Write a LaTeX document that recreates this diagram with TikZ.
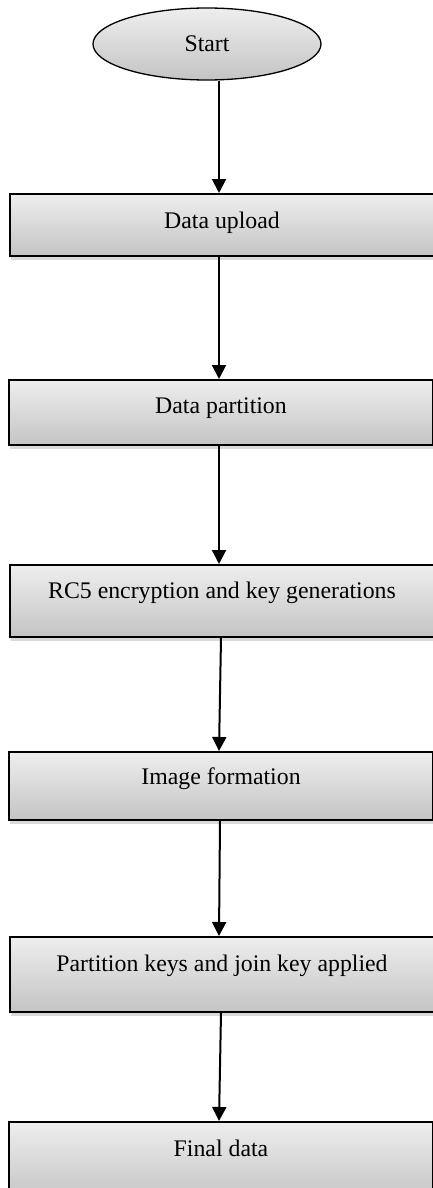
\documentclass[tikz,border=0pt]{standalone}
\usepackage{fontspec}
\setmainfont{Liberation Serif}
\usetikzlibrary{shapes.geometric,shadows,arrows.meta,calc}
\definecolor{gtop}{RGB}{238,238,238}
\definecolor{gbot}{RGB}{196,196,196}
\begin{document}
\begin{tikzpicture}[x=1pt,y=1pt,
  every node/.style={font=\fontsize{23.8}{28}\selectfont},
  stepbox/.style={rectangle, draw=black, line width=2pt, top color=gtop, bottom color=gbot,
    minimum width=424pt, inner xsep=0pt, inner ysep=0pt,
    drop shadow={opacity=0.3, shadow xshift=1pt, shadow yshift=-4pt}},
  startnode/.style={ellipse, draw=black, line width=1.3pt, top color=gtop, bottom color=gbot,
    minimum width=228pt, minimum height=72pt, inner sep=0pt},
  arr/.style={line width=2pt, -{Triangle[width=14pt,length=14pt]}}
]
\useasboundingbox (0,0) rectangle (432,-1188);
\node[startnode] (s) at (207,-44) {Start};
\node[stepbox, text height=34pt, text depth=28pt, anchor=north] (b1) at (222,-193) {Data upload};
\node[stepbox, text height=33pt, text depth=32pt, anchor=north] (b2) at (221,-379) {Data partition};
\node[stepbox, text height=33pt, text depth=39pt, anchor=north] (b3) at (222,-564) {RC5 encryption and key generations};
\node[stepbox, text height=32pt, text depth=36pt, anchor=north] (b4) at (221,-751) {Image formation};
\node[stepbox, text height=34pt, text depth=41pt, anchor=north] (b5) at (222,-936) {Partition keys and join key applied};
\node[stepbox, text height=34pt, text depth=44pt, anchor=north] (b6) at (221,-1121) {Final data};
\draw[arr] ([xshift=12pt]s.south) -- ([xshift=-3pt]b1.north);
\draw[arr] ([xshift=-3pt]b1.south) -- ([xshift=-2pt]b2.north);
\draw[arr] ([xshift=-2pt]b2.south) -- ([xshift=-3pt]b3.north);
\draw[arr] ([xshift=-1pt]b3.south) -- ([xshift=-2pt]b4.north);
\draw[arr] ([xshift=-1pt]b4.south) -- ([xshift=-3pt]b5.north);
\draw[arr] ([xshift=-1pt]b5.south) -- ([xshift=-2pt]b6.north);
\end{tikzpicture}
\end{document}
